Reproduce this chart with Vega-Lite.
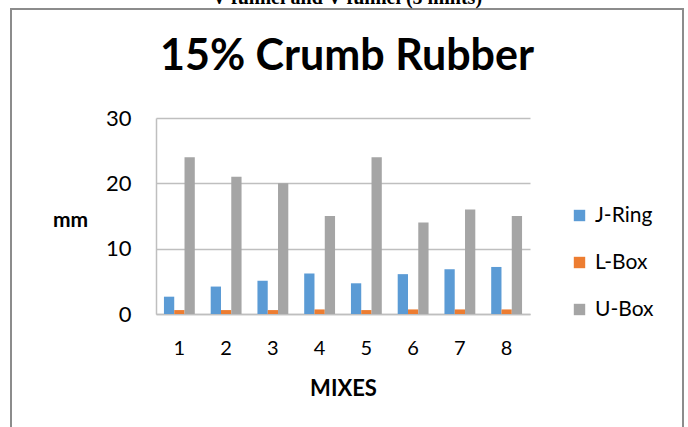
{
  "$schema": "https://vega.github.io/schema/vega-lite/v6.json",
  "width": 672,
  "height": 420,
  "autosize": {"type": "none"},
  "padding": {"left": 11, "top": 9, "right": 5, "bottom": 0},
  "background": "white",
  "config": {
    "font": "Lato",
    "view": {"stroke": "#8c8c8c", "strokeWidth": 2}
  },
  "title": {
    "text": "V funnel and V funnel (5 mints)",
    "subtitle": "15% Crumb Rubber",
    "font": "Liberation Serif",
    "fontSize": 20,
    "fontWeight": "bold",
    "color": "black",
    "subtitleFont": "Lato",
    "subtitleFontSize": 43,
    "subtitleFontWeight": "bold",
    "subtitleColor": "black",
    "subtitlePadding": 28,
    "offset": -70,
    "anchor": "middle"
  },
  "data": {
    "values": [
      {"mix": "1", "test": "J-Ring", "mm": 2.65},
      {"mix": "2", "test": "J-Ring", "mm": 4.2},
      {"mix": "3", "test": "J-Ring", "mm": 5.1},
      {"mix": "4", "test": "J-Ring", "mm": 6.2},
      {"mix": "5", "test": "J-Ring", "mm": 4.7},
      {"mix": "6", "test": "J-Ring", "mm": 6.1},
      {"mix": "7", "test": "J-Ring", "mm": 6.85},
      {"mix": "8", "test": "J-Ring", "mm": 7.2},
      {"mix": "1", "test": "L-Box", "mm": 0.6},
      {"mix": "2", "test": "L-Box", "mm": 0.6},
      {"mix": "3", "test": "L-Box", "mm": 0.6},
      {"mix": "4", "test": "L-Box", "mm": 0.7},
      {"mix": "5", "test": "L-Box", "mm": 0.6},
      {"mix": "6", "test": "L-Box", "mm": 0.7},
      {"mix": "7", "test": "L-Box", "mm": 0.7},
      {"mix": "8", "test": "L-Box", "mm": 0.7},
      {"mix": "1", "test": "U-Box", "mm": 24},
      {"mix": "2", "test": "U-Box", "mm": 21},
      {"mix": "3", "test": "U-Box", "mm": 20},
      {"mix": "4", "test": "U-Box", "mm": 15},
      {"mix": "5", "test": "U-Box", "mm": 24},
      {"mix": "6", "test": "U-Box", "mm": 14},
      {"mix": "7", "test": "U-Box", "mm": 16},
      {"mix": "8", "test": "U-Box", "mm": 15}
    ]
  },
  "mark": {"type": "bar"},
  "encoding": {
    "x": {
      "field": "mix",
      "type": "nominal",
      "scale": {"range": [145, 519], "paddingInner": 0.34, "paddingOuter": 0.17},
      "axis": {
        "orient": "bottom",
        "offset": -115,
        "labelAngle": 0,
        "labelFontSize": 20,
        "labelColor": "black",
        "labelPadding": 24,
        "ticks": false,
        "grid": false,
        "domainColor": "#bfbfbf",
        "domainWidth": 1.5,
        "title": "MIXES",
        "titleFontSize": 22,
        "titleFontWeight": "bold",
        "titleColor": "black",
        "titleY": 74,
        "titleBaseline": "middle"
      }
    },
    "xOffset": {"field": "test", "type": "nominal"},
    "y": {
      "field": "mm",
      "type": "quantitative",
      "scale": {"domain": [0, 30], "range": [305, 109]},
      "axis": {
        "orient": "left",
        "offset": -145,
        "values": [0, 10, 20, 30],
        "grid": true,
        "gridColor": "#bfbfbf",
        "gridWidth": 1.5,
        "domainColor": "#bfbfbf",
        "domainWidth": 1.5,
        "ticks": false,
        "labelFontSize": 22,
        "labelColor": "black",
        "labelPadding": 25,
        "title": "mm",
        "titleAngle": 0,
        "titleFontSize": 21,
        "titleFontWeight": "bold",
        "titleColor": "black",
        "titleX": -86,
        "titleY": 211,
        "titleAlign": "center",
        "titleBaseline": "middle"
      }
    },
    "color": {
      "field": "test",
      "type": "nominal",
      "scale": {"domain": ["J-Ring", "L-Box", "U-Box"], "range": ["#5b9bd5", "#ed7d31", "#a5a5a5"]},
      "legend": {
        "title": null,
        "orient": "none",
        "legendX": 558,
        "legendY": 196,
        "padding": 0,
        "symbolType": "square",
        "symbolSize": 130,
        "symbolStrokeWidth": 0,
        "labelFontSize": 21,
        "labelColor": "black",
        "labelOffset": 5,
        "rowPadding": 25
      }
    }
  }
}
